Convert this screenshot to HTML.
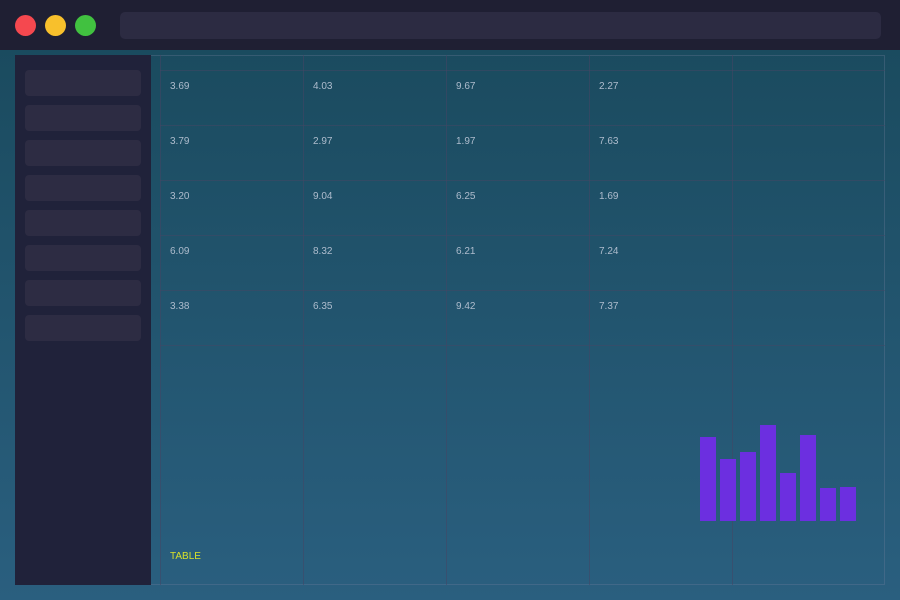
<!DOCTYPE html>
<html><head><style>
html,body{margin:0;padding:0}
body{width:900px;height:600px;position:relative;overflow:hidden;background:linear-gradient(180deg,#19495c 0%,#2a5f7f 100%);font-family:"Liberation Sans",sans-serif}
.top{position:absolute;left:0;top:0;width:900px;height:50px;background:#1f1f33}
.dot{position:absolute;top:15px;width:21px;height:21px;border-radius:50%}
.url{position:absolute;left:120px;top:12px;width:761px;height:27px;border-radius:5px;background:#2c2b42}
.side{position:absolute;left:15px;top:55px;width:136px;height:530px;background:#20223a}
.btn{position:absolute;left:10px;width:116px;height:26px;border-radius:4px;background:#2d2c43}
.panel{position:absolute;left:151px;top:55px;width:734px;height:530px;border:1px solid rgba(120,130,160,0.3);border-left:none;box-sizing:border-box}
.v{position:absolute;top:55px;height:530px;width:1px;background:rgba(70,70,100,0.55)}
.h{position:absolute;left:160px;width:725px;height:1px;background:rgba(70,70,100,0.5)}
.t{position:absolute;font-size:10px;color:#aebccd}
.bar{position:absolute;width:16px;background:#6c2fe0}
</style></head><body>
<div class="top">
<div class="dot" style="left:15px;background:#f5484f"></div>
<div class="dot" style="left:45px;background:#f8c02c"></div>
<div class="dot" style="left:75px;background:#41c140"></div>
<div class="url"></div>
</div>
<div class="side">
<div class="btn" style="top:15px"></div><div class="btn" style="top:50px"></div><div class="btn" style="top:85px"></div><div class="btn" style="top:120px"></div><div class="btn" style="top:155px"></div><div class="btn" style="top:190px"></div><div class="btn" style="top:225px"></div><div class="btn" style="top:260px"></div>
</div>
<div class="panel"></div>
<div class="v" style="left:160px"></div><div class="v" style="left:303px"></div><div class="v" style="left:446px"></div><div class="v" style="left:589px"></div><div class="v" style="left:732px"></div>
<div class="h" style="top:70px"></div><div class="h" style="top:125px"></div><div class="h" style="top:180px"></div><div class="h" style="top:235px"></div><div class="h" style="top:290px"></div><div class="h" style="top:345px"></div>
<div class="t" style="left:170px;top:81px">3.69</div><div class="t" style="left:313px;top:81px">4.03</div><div class="t" style="left:456px;top:81px">9.67</div><div class="t" style="left:599px;top:81px">2.27</div>
<div class="t" style="left:170px;top:136px">3.79</div><div class="t" style="left:313px;top:136px">2.97</div><div class="t" style="left:456px;top:136px">1.97</div><div class="t" style="left:599px;top:136px">7.63</div>
<div class="t" style="left:170px;top:191px">3.20</div><div class="t" style="left:313px;top:191px">9.04</div><div class="t" style="left:456px;top:191px">6.25</div><div class="t" style="left:599px;top:191px">1.69</div>
<div class="t" style="left:170px;top:246px">6.09</div><div class="t" style="left:313px;top:246px">8.32</div><div class="t" style="left:456px;top:246px">6.21</div><div class="t" style="left:599px;top:246px">7.24</div>
<div class="t" style="left:170px;top:301px">3.38</div><div class="t" style="left:313px;top:301px">6.35</div><div class="t" style="left:456px;top:301px">9.42</div><div class="t" style="left:599px;top:301px">7.37</div>
<div class="t" style="left:170px;top:551px;color:#d8e02a">TABLE</div>
<div class="bar" style="left:700px;top:437px;height:84px"></div>
<div class="bar" style="left:720px;top:459px;height:62px"></div>
<div class="bar" style="left:740px;top:452px;height:69px"></div>
<div class="bar" style="left:760px;top:425px;height:96px"></div>
<div class="bar" style="left:780px;top:473px;height:48px"></div>
<div class="bar" style="left:800px;top:435px;height:86px"></div>
<div class="bar" style="left:820px;top:488px;height:33px"></div>
<div class="bar" style="left:840px;top:487px;height:34px"></div>
</body></html>
